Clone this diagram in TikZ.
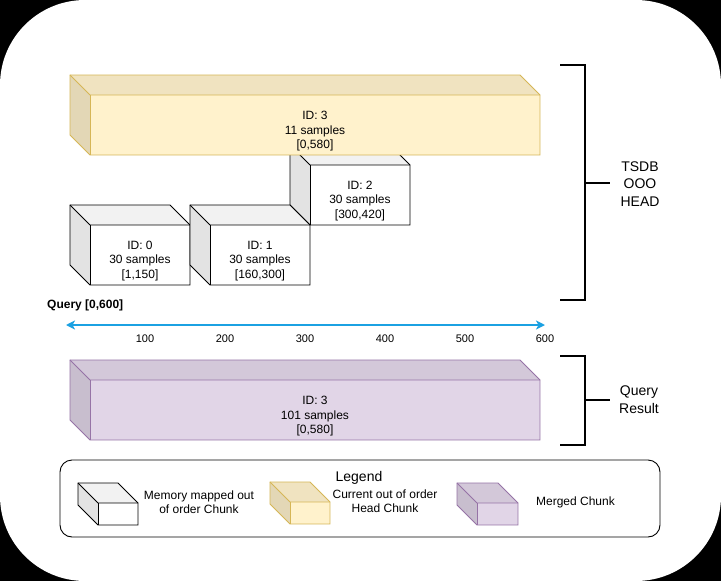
\documentclass[tikz,border=0pt]{standalone}
\usepackage{fontspec}
\setmainfont{Liberation Sans}
\usetikzlibrary{arrows.meta}
\definecolor{yelfill}{HTML}{FFF2CC}
\definecolor{yelline}{HTML}{D6B656}
\definecolor{purfill}{HTML}{E1D5E7}
\definecolor{purline}{HTML}{9673A6}
\definecolor{arrowblue}{HTML}{1BA1E2}
\tikzset{
  wtop/.style={fill=black!5}, wleft/.style={fill=black!11}, wfront/.style={fill=white},
  wline/.style={draw=black, line width=0.9pt, line join=miter},
  ytop/.style={fill=yelfill!94!black}, yleft/.style={fill=yelfill!89!black}, yfront/.style={fill=yelfill},
  yline/.style={draw=yelline, line width=0.9pt, line join=miter},
  ptop/.style={fill=purfill!94!black}, pleft/.style={fill=purfill!89!black}, pfront/.style={fill=purfill},
  pline/.style={draw=purline, line width=0.9pt, line join=miter},
  chunktext/.style={align=center, inner sep=0pt, font=\fontsize{12}{14.5}\selectfont},
  bigtext/.style={align=center, inner sep=0pt, font=\fontsize{14}{17.4}\selectfont},
  legtext/.style={align=center, inner sep=0pt, font=\fontsize{12}{14}\selectfont},
  ticklabel/.style={inner sep=0pt, font=\fontsize{11}{13}\selectfont},
  bracket/.style={draw=black, line width=2pt},
  qarrow/.style={draw=arrowblue, line width=1.8pt, {Stealth[length=9pt,width=9pt,inset=2.5pt]}-{Stealth[length=9pt,width=9pt,inset=2.5pt]}},
  legendbox/.style={draw=black, line width=0.9pt, rounded corners=12pt, fill=white}
}
% cube: #1 x, #2 y (back top-left), #3 width, #4 height, #5 style prefix; depth 20
\newcommand{\chunkcube}[5]{%
  \path[#5top] (#1,#2) -- ({#1+#3-20},#2) -- ({#1+#3},{#2+20}) -- ({#1+20},{#2+20}) -- cycle;
  \path[#5left] (#1,#2) -- ({#1+20},{#2+20}) -- ({#1+20},{#2+#4}) -- (#1,{#2+#4-20}) -- cycle;
  \path[#5front] ({#1+20},{#2+20}) rectangle ({#1+#3},{#2+#4});
  \draw[#5line] (#1,#2) -- ({#1+#3-20},#2) -- ({#1+#3},{#2+20}) -- ({#1+#3},{#2+#4}) -- ({#1+20},{#2+#4}) -- (#1,{#2+#4-20}) -- cycle;
  \draw[#5line] (#1,#2) -- ({#1+20},{#2+20}) -- ({#1+#3},{#2+20});
  \draw[#5line] ({#1+20},{#2+20}) -- ({#1+20},{#2+#4});
}
\begin{document}
\begin{tikzpicture}[x=1pt,y=-1pt]
\useasboundingbox (0,0) rectangle (721,581);
\fill[black] (0,0) rectangle (721,581);
\fill[white, rounded corners=85pt] (0,0) rectangle (721,581);

% out-of-order chunks
\chunkcube{290}{145}{120}{80}{w}
\chunkcube{70}{205}{120}{80}{w}
\chunkcube{190}{205}{120}{80}{w}
\chunkcube{70}{75}{470}{80}{y}

\node[chunktext] (c3) at (315,131.5) {ID: 3\\11 samples\\{[0,580]}};
\node[chunktext] (c2) at (360,200.7) {ID: 2\\30 samples\\{[300,420]}};
\node[chunktext] (c0) at (140,261) {ID: 0\\30 samples\\{[1,150]}};
\node[chunktext] (c1) at (260,261) {ID: 1\\30 samples\\{[160,300]}};

% bracket TSDB OOO HEAD
\coordinate (b1) at (560,65);
\coordinate (b2) at (585,65);
\coordinate (b3) at (585,300);
\coordinate (b4) at (560,300);
\coordinate (bm) at (585,182.5);
\coordinate (bt) at (610,182.5);
\draw[bracket] (b1) -- (b2) -- (b3) -- (b4);
\draw[bracket] (bm) -- (bt);
\node[bigtext] (ooo) at (640,184) {TSDB\\OOO\\HEAD};

% query axis
\node[anchor=west, inner sep=0pt, font=\fontsize{12}{14}\selectfont\bfseries] (qlabel) at (47,305) {Query [0,600]};
\coordinate (qa) at (66,325);
\coordinate (qb) at (545,325);
\draw[qarrow] (qa) -- (qb);
\foreach \v/\xx in {100/145,200/225,300/305,400/385,500/465,600/545}{
  \node[ticklabel] (t\v) at (\xx,338.5) {\v};
}

% merged result
\chunkcube{70}{360}{470}{80}{p}
\node[chunktext] (res) at (315,416.5) {ID: 3\\101 samples\\{[0,580]}};
\coordinate (r1) at (560,355.5);
\coordinate (r2) at (585,355.5);
\coordinate (r3) at (585,445);
\coordinate (r4) at (560,445);
\coordinate (rm) at (585,400);
\coordinate (rt) at (610,400);
\draw[bracket] (r1) -- (r2) -- (r3) -- (r4);
\draw[bracket] (rm) -- (rt);
\node[bigtext] (qres) at (639,399.5) {Query\\Result};

% legend
\draw[legendbox] (60,460) rectangle (660,537);
\node[bigtext] (leg) at (359,477.5) {Legend};
\chunkcube{78}{483}{60}{42}{w}
\chunkcube{270}{482}{60}{42}{y}
\chunkcube{457}{483}{61}{42}{p}
\node[legtext] (l1) at (199,502) {Memory mapped out\\of order Chunk};
\node[legtext] (l2) at (385,501.5) {Current out of order\\Head Chunk};
\node[legtext] (l3) at (575.5,502) {Merged Chunk};
\end{tikzpicture}
\end{document}
